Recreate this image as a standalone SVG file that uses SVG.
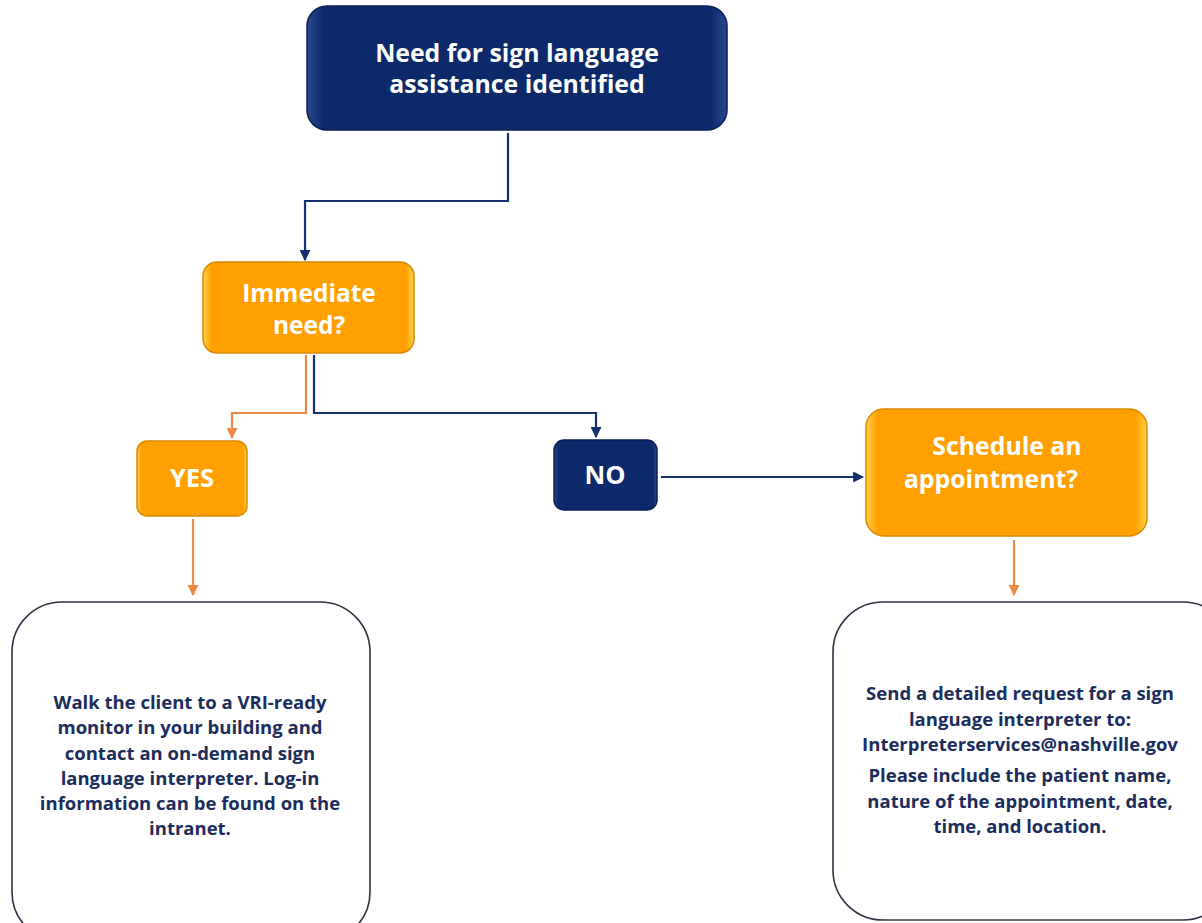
<svg xmlns="http://www.w3.org/2000/svg" width="1202" height="923" viewBox="0 0 1202 923">
  <defs>
    <linearGradient id="navyFill" x1="0" y1="0" x2="1" y2="0">
      <stop offset="0" stop-color="#2a4a8e"/>
      <stop offset="0.04" stop-color="#0c2a6a"/>
      <stop offset="0.96" stop-color="#0c2a6a"/>
      <stop offset="1" stop-color="#2a4a8e"/>
    </linearGradient>
    <linearGradient id="orangeFill" x1="0" y1="0" x2="1" y2="0">
      <stop offset="0" stop-color="#ffd24a"/>
      <stop offset="0.04" stop-color="#ffa000"/>
      <stop offset="0.96" stop-color="#ffa000"/>
      <stop offset="1" stop-color="#ffd24a"/>
    </linearGradient>
    <marker id="arrowNavy" viewBox="0 0 10 10" refX="9" refY="5" markerWidth="5" markerHeight="5" orient="auto">
      <path d="M0,0 L10,5 L0,10 z" fill="#14306e"/>
    </marker>
    <marker id="arrowOrange" viewBox="0 0 10 10" refX="9" refY="5" markerWidth="5" markerHeight="5" orient="auto">
      <path d="M0,0 L10,5 L0,10 z" fill="#ea8a45"/>
    </marker>
  </defs>
  <style>
    .navy { fill: url(#navyFill); stroke: #0a1f52; stroke-width: 1.5; }
    .orange { fill: url(#orangeFill); stroke: #d88a00; stroke-width: 1.5; }
    .note { fill: #ffffff; stroke: #2e3446; stroke-width: 1.6; }
    .title { font-family: "Open Sans", "Liberation Sans", sans-serif; font-weight: bold; fill: #ffffff; text-anchor: middle; }
    .body { font-family: "Open Sans", "Liberation Sans", sans-serif; font-weight: bold; fill: #1c2d5c; text-anchor: middle; font-size: 18.5px; }
    .lnNavy { fill: none; stroke: #14306e; stroke-width: 2.2; marker-end: url(#arrowNavy); }
    .lnOrange { fill: none; stroke: #ea8a45; stroke-width: 2.2; marker-end: url(#arrowOrange); }
  </style>

  <rect width="1202" height="923" fill="#ffffff"/>

  <!-- connectors -->
  <g id="connectors">
    <path class="lnNavy" d="M508,133 V201 H305 V260"/>
    <path class="lnOrange" d="M306,355 V413 H232 V438"/>
    <path class="lnNavy" d="M314,355 V413 H596 V437"/>
    <path class="lnNavy" d="M661,477 H863"/>
    <path class="lnOrange" d="M193,519 V595"/>
    <path class="lnOrange" d="M1014,540 V595"/>
  </g>

  <!-- start -->
  <g id="start">
    <rect class="navy" x="307" y="6" width="420" height="124" rx="20"/>
    <text class="title" font-size="24.8" x="517" y="62">Need for sign language</text>
    <text class="title" font-size="24.8" x="517" y="93">assistance identified</text>
  </g>

  <!-- decision: immediate need -->
  <g id="immediate">
    <rect class="orange" x="203" y="262" width="211" height="91" rx="14"/>
    <text class="title" font-size="24.5" x="309" y="302">Immediate</text>
    <text class="title" font-size="24.5" x="309" y="334">need?</text>
  </g>

  <!-- yes -->
  <g id="yes">
    <rect class="orange" x="137" y="441" width="110" height="75" rx="10"/>
    <text class="title" font-size="25.5" x="192" y="487">YES</text>
  </g>

  <!-- no -->
  <g id="no">
    <rect class="navy" x="554" y="440" width="103" height="70" rx="10"/>
    <text class="title" font-size="25.5" x="605" y="484">NO</text>
  </g>

  <!-- decision: schedule -->
  <g id="schedule">
    <rect class="orange" x="866" y="409" width="281" height="127" rx="18"/>
    <text class="title" font-size="24.8" x="1007" y="455">Schedule an</text>
    <text class="title" font-size="24.8" x="991" y="488">appointment?</text>
  </g>

  <!-- on-demand interpreter -->
  <g id="vri">
    <rect class="note" x="12" y="602" width="358" height="340" rx="50"/>
    <text class="body" x="190" y="709">Walk the client to a VRI-ready</text>
    <text class="body" x="190" y="734">monitor in your building and</text>
    <text class="body" x="190" y="759.5">contact an on-demand sign</text>
    <text class="body" x="190" y="784.5">language interpreter. Log-in</text>
    <text class="body" x="190" y="810">information can be found on the</text>
    <text class="body" x="190" y="835">intranet.</text>
  </g>

  <!-- scheduled request -->
  <g id="request">
    <rect class="note" x="833" y="602" width="400" height="318" rx="50"/>
    <text class="body" x="1020" y="700">Send a detailed request for a sign</text>
    <text class="body" x="1020" y="725.5">language interpreter to:</text>
    <text class="body" x="1020" y="751">Interpreterservices@nashville.gov</text>
    <text class="body" x="1020" y="782">Please include the patient name,</text>
    <text class="body" x="1020" y="807.5">nature of the appointment, date,</text>
    <text class="body" x="1020" y="833">time, and location.</text>
  </g>
</svg>
